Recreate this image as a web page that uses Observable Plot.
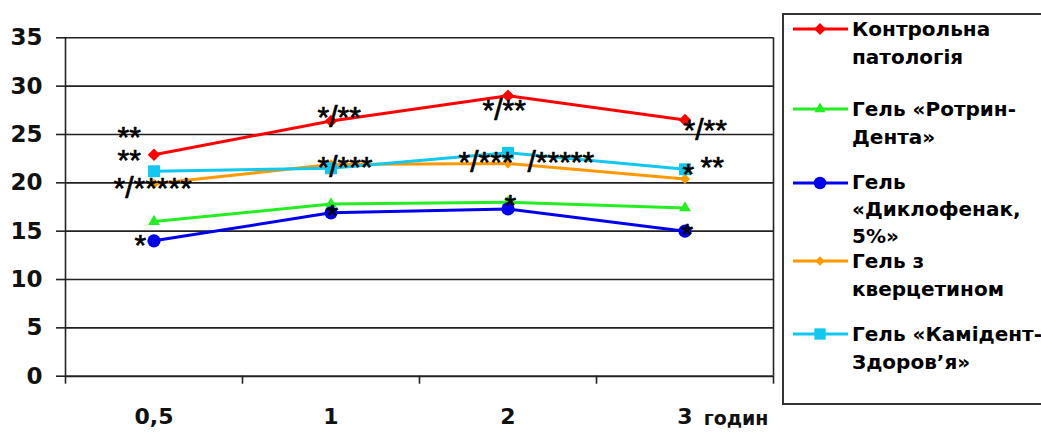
<!DOCTYPE html>
<html>
<head>
<meta charset="utf-8">
<script src="https://cdn.jsdelivr.net/npm/d3@7"></script>
<script src="https://cdn.jsdelivr.net/npm/@observablehq/plot@0.6"></script>
<style>
  html, body { margin: 0; padding: 0; background: #fff; }
  #wrap { position: relative; width: 1041px; height: 433px; overflow: hidden; background: #fff;
          font-family: "Liberation Sans", Arial, sans-serif; }
  #chart { position: absolute; left: 0; top: 0; }
  #legend { position: absolute; left: 782px; top: 13px; width: 300px; height: 392px;
            border: 2px solid #333; box-sizing: border-box; }
  .entry { position: absolute; left: 9px; display: flex; align-items: flex-start; }
  .entry svg { flex: none; }
  .entry .txt { font-family: "DejaVu Sans", sans-serif; font-weight: bold; font-size: 20px; line-height: 28px;
                color: #000; margin-left: 2px; white-space: nowrap; }
</style>
</head>
<body>
<div id="wrap">
  <div id="chart"></div>
  <div id="legend"></div>
</div>
<script>
// ---- data ----
const times = ["0,5", "1", "2", "3"];
const seriesNames = [
  "Контрольна патологія",
  "Гель «Ротрин-Дента»",
  "Гель «Диклофенак, 5%»",
  "Гель з кверцетином",
  "Гель «Камідент-Здоров’я»"
];
const legendLines = [
  ["Контрольна", "патологія"],
  ["Гель «Ротрин-", "Дента»"],
  ["Гель", "«Диклофенак,", "5%»"],
  ["Гель з", "кверцетином"],
  ["Гель «Камідент-", "Здоров’я»"]
];
const control    = [22.9, 26.4, 29.0, 26.5];
const rotrin     = [16.0, 17.8, 18.0, 17.4];
const diclofenac = [14.0, 16.9, 17.3, 15.0];
const quercetin  = [19.9, 21.9, 22.0, 20.4];
const kamident   = [21.2, 21.5, 23.1, 21.4];
const yTicks = [0, 5, 10, 15, 20, 25, 30, 35];
const unitLabel = "годин";

// significance annotations: time index, y level, text
const annTime = [0, 0, 0, 1, 1, 1, 2, 2, 2, 2, 3, 3, 3, 3];
const annY    = [21.28, 18.38, 12.49, 25.73, 20.56, 15.59, 26.45, 21.07, 21.07, 16.63, 24.38, 19.83, 20.56, 13.63];
const annText = ["**\n**", "*/*****", "*", "*/**", "*/***", "*", "*/**", "*/***", "/*****", "*", "*/**", "*", "**", "*"];

// ---- styles ----
const colors  = ["#ff0000", "#22ee22", "#0000ee", "#ff9900", "#11c8f0"];
const symbols = ["diamond2", "triangle2", "circle", "diamond2", "square2"];
const radii   = [5.6, 5.6, 6.6, 4.6, 7.6];
const annDx   = [-36.5, -40.5, -19.5, -13.5, -13.5, -4.5, -25.5, -49.5, 19.5, -3.5, -1.5, -2.5, 15.5, -3.5];

const allSeries = [control, rotrin, diclofenac, quercetin, kamident];
const rows = allSeries.flatMap((vals, s) =>
  vals.map((v, i) => ({series: seriesNames[s], s, time: times[i], xi: i + 0.5, value: v})));
const anns = annText.map((t, k) => ({text: t, xi: annTime[k] + 0.5, y: annY[k], dx: annDx[k]}));

const font = '"Liberation Sans", Arial, sans-serif';
const labelFont = '"DejaVu Sans", sans-serif';

const marks = [
  Plot.gridY(yTicks.filter(d => d > 0), {stroke: "#222", strokeOpacity: 1, strokeWidth: 1.6}),
  Plot.axisY({ticks: yTicks, tickSize: 9, tickPadding: 14, fontSize: 23, fontWeight: "bold", fontFamily: labelFont,
              stroke: "#222", strokeWidth: 1.6, fill: "#111", label: null}),
  Plot.axisX({ticks: [0, 1, 2, 3, 4], tickSize: 8, tickFormat: () => "", stroke: "#222", strokeWidth: 1.6, label: null}),
  Plot.axisX({ticks: times.map((t, i) => i + 0.5), tickSize: 0, tickPadding: 32, fontFamily: labelFont,
              tickFormat: (d) => times[Math.round(d - 0.5)], fontSize: 22, fontWeight: "bold", fill: "#111", label: null}),
  Plot.ruleY([0], {stroke: "#222", strokeWidth: 2}),
  Plot.ruleX([0, 4], {stroke: "#222", strokeWidth: 1.6}),
  Plot.text([unitLabel], {frameAnchor: "bottom-right", textAnchor: "end", lineAnchor: "bottom", fontFamily: labelFont,
             dx: -5, dy: 49, fontSize: 19, fontWeight: "bold", fill: "#111"})
];
allSeries.forEach((vals, s) => {
  const data = rows.filter(r => r.s === s);
  marks.push(Plot.line(data, {x: "xi", y: "value", stroke: colors[s], strokeWidth: 3}));
  marks.push(Plot.dot(data, {x: "xi", y: "value", symbol: symbols[s], r: radii[s], fill: colors[s], stroke: "none"}));
});
anns.forEach(a => {
  marks.push(Plot.text([a], {x: "xi", y: "y", text: "text", dx: a.dx, textAnchor: "start",
    lineAnchor: "bottom", lineHeight: 0.77, fontSize: 30, fill: "#000", stroke: "#000", strokeWidth: 0.7}));
});

const chart = Plot.plot({
  width: 780,
  height: 433,
  marginLeft: 65,
  marginRight: 7,
  marginTop: 37.3,
  marginBottom: 57.3,
  style: {fontFamily: font, background: "#fff", overflow: "visible"},
  x: {domain: [0, 4], axis: null},
  y: {domain: [0, 35], axis: null},
  marks
});
document.getElementById("chart").appendChild(chart);

// ---- legend ----
const legend = document.getElementById("legend");
const entryTops = [0, 80, 154, 232, 305];
seriesNames.forEach((name, s) => {
  const e = document.createElement("div");
  e.className = "entry";
  e.style.top = entryTops[s] + "px";
  const svg = d3.create("svg").attr("width", 57).attr("height", 28);
  svg.append("line").attr("x1", 0).attr("x2", 55).attr("y1", 14).attr("y2", 14)
     .attr("stroke", colors[s]).attr("stroke-width", 3);
  const sym = {diamond2: d3.symbolDiamond2, triangle2: d3.symbolTriangle2, circle: d3.symbolCircle, square2: d3.symbolSquare2}[symbols[s]];
  svg.append("path").attr("transform", "translate(27,14)")
     .attr("d", d3.symbol(sym, Math.PI * radii[s] * radii[s] * 0.9)())
     .attr("fill", colors[s]);
  e.appendChild(svg.node());
  const t = document.createElement("div");
  t.className = "txt";
  t.innerHTML = legendLines[s].join("<br>");
  if (s === 2) t.style.lineHeight = "27px";
  e.appendChild(t);
  legend.appendChild(e);
});
</script>
</body>
</html>
